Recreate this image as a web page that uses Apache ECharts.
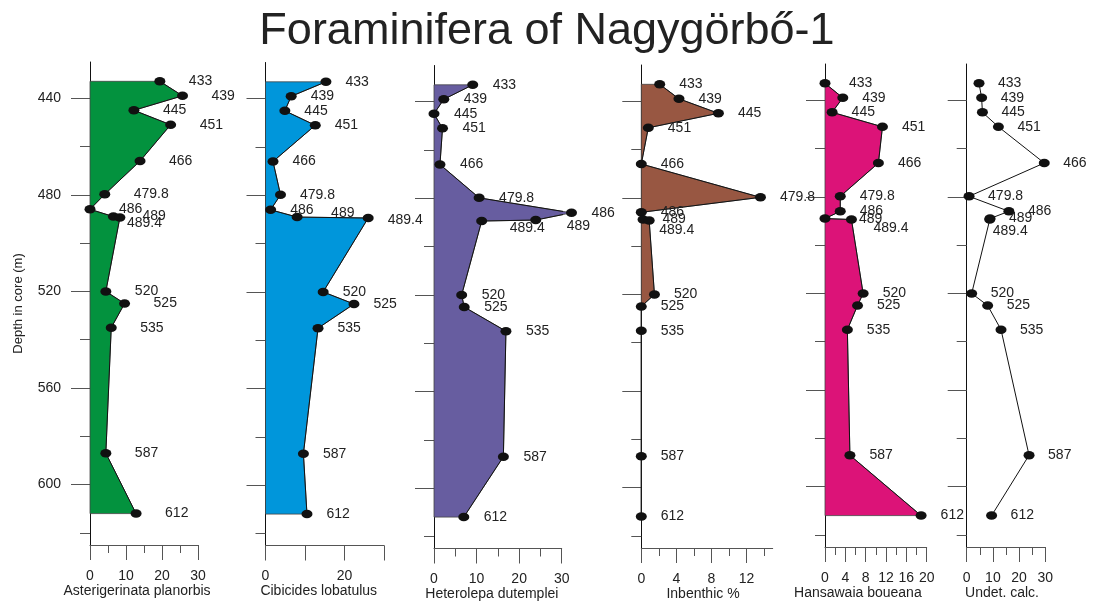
<!DOCTYPE html>
<html>
<head>
<meta charset="utf-8">
<title>Foraminifera of Nagygörbő-1</title>
<script src="https://cdn.jsdelivr.net/npm/echarts@6/dist/echarts.min.js"></script>
<style>
  html, body { margin: 0; padding: 0; background: #fff; }
  #main { width: 1094px; height: 601px; }
</style>
</head>
<body>
<div id="main"></div>
<script>
// sample depths in core (m)
var depths = [433, 439, 445, 451, 466, 479.8, 486, 489, 489.4, 520, 525, 535, 587, 612];

// counts, one value per depth
var asterigerinata = [19.4, 25.7, 12.2, 22.4, 13.9, 4.1, 0, 6.5, 8.3, 4.4, 9.6, 5.9, 4.4, 12.8];
var cibicides = [15.3, 6.5, 4.9, 12.6, 1.9, 3.8, 1.3, 8.0, 26.0, 14.6, 22.4, 13.3, 9.6, 10.5];
var heterolepa = [9.1, 2.3, 0, 2.0, 1.4, 10.6, 32.3, 23.9, 11.2, 6.5, 7.1, 16.9, 16.3, 7.0];
var inbenthic = [2.1, 4.3, 8.8, 0.8, 0, 13.6, 0, 0.2, 0.9, 1.5, 0, 0, 0, 0];
var hansawaia = [0, 3.5, 1.4, 11.3, 10.5, 3.0, 3.0, 0, 5.2, 7.5, 6.4, 4.4, 4.9, 18.9];
var undet = [4.7, 5.7, 6.0, 12.1, 29.6, 0.9, 16.1, 8.9, 8.8, 1.9, 8.0, 13.1, 23.8, 9.5];

var depthTicks = [440, 480, 520, 560, 600];
var depthMinorTicks = [460, 500, 540, 580, 620];

var ticks30 = [0, 10, 20, 30];
var minor30 = [5, 15, 25];
var ticks15 = [0, 4, 8, 12];
var minor15 = [2, 6, 10, 14];
var ticks20 = [0, 4, 8, 12, 16, 20];
var minor20 = [2, 6, 10, 14, 18];

// layout / style per panel (nudge = label offset by point index)
var panels = [
  { name: 'Asterigerinata planorbis', values: asterigerinata, color: '#03923e',
    left: 90, width: 108, top: 62, max: 30, ticks: ticks30, labels: ticks30, minor: minor30,
    gap: 29, nameShift: 7, nudge: { 8: [-22, 6] } },
  { name: 'Cibicides lobatulus', values: cibicides, color: '#0096db',
    left: 265.5, width: 118.5, top: 62.5, max: 30, ticks: ticks30, labels: [0, 20], minor: [],
    gap: 19.5, nameShift: 6, nudge: { 7: [14.5, -4], 8: [0, 2] } },
  { name: 'Heterolepa dutemplei', values: heterolepa, color: '#675da0',
    left: 434, width: 127.7, top: 65.5, max: 30, ticks: ticks30, labels: ticks30, minor: minor30,
    gap: 20, nameShift: 6, nudge: { 7: [11, 6], 8: [8, 7] } },
  { name: 'Inbenthic %', values: inbenthic, color: '#985742',
    left: 641.3, width: 131.4, top: 65, max: 15, ticks: ticks15, labels: ticks15, minor: minor15,
    gap: 19.5, nameShift: 4, nudge: { 8: [-9.5, 9.5] } },
  { name: 'Hansawaia boueana', values: hansawaia, color: '#dc1378',
    left: 825, width: 101.7, top: 64, max: 20, ticks: ticks20, labels: ticks20, minor: minor20,
    gap: 19.5, nameShift: 18, nudge: { 0: [4.5, 0], 7: [14.5, 1], 8: [2.5, 9] } },
  { name: 'Undet. calc.', values: undet, color: null,
    left: 966.7, width: 78.6, top: 64, max: 30, ticks: ticks30, labels: ticks30, minor: minor30,
    gap: 19, nameShift: 4, nudge: { 8: [-16, 12] } }
];

var chart = echarts.init(document.getElementById('main'));

var option = {
  animation: false,
  textStyle: { fontFamily: 'Liberation Sans, Arial, sans-serif' },
  title: {
    text: 'Foraminifera of Nagygörbő-1',
    left: 'center',
    top: 4,
    textStyle: { fontSize: 45, fontWeight: 'normal', color: '#222' }
  },
  grid: [],
  xAxis: [],
  yAxis: [],
  series: []
};

panels.forEach(function (p, i) {
  option.grid.push({
    left: p.left, top: p.top, width: p.width, height: 483,
    containLabel: false, outerBoundsMode: 'none'
  });

  option.xAxis.push({
    gridIndex: i, type: 'value', min: 0, max: p.max, position: 'bottom',
    name: p.name, nameLocation: 'middle', nameGap: 39, nameMoveOverlap: false,
    nameTextStyle: { fontSize: 14, color: '#222', padding: [0, p.nameShift * 2, 0, 0] },
    axisLine: { show: true, onZero: false, lineStyle: { color: '#555' } },
    axisTick: { show: true, customValues: p.ticks, length: 15, lineStyle: { color: '#555' } },
    axisLabel: { show: true, customValues: p.labels, margin: 24, fontSize: 14, color: '#222' },
    splitLine: { show: false }
  });
  option.xAxis.push({
    gridIndex: i, type: 'value', min: 0, max: p.max, position: 'bottom',
    axisLine: { show: false, onZero: false },
    axisTick: { show: p.minor.length > 0, customValues: p.minor, length: 8, lineStyle: { color: '#555' } },
    axisLabel: { show: false },
    splitLine: { show: false }
  });

  option.yAxis.push({
    gridIndex: i, type: 'value', inverse: true, min: 425, max: 625, position: 'left',
    name: i === 0 ? 'Depth in core (m)' : '', nameLocation: 'middle', nameGap: 65,
    nameMoveOverlap: false,
    nameTextStyle: { fontSize: 13, color: '#222' },
    axisLine: { show: true, onZero: false, lineStyle: { color: '#111' } },
    axisTick: { show: true, customValues: depthTicks, length: 19, lineStyle: { color: '#555' } },
    axisLabel: { show: i === 0, customValues: depthTicks, margin: 29, fontSize: 14, color: '#222' },
    splitLine: { show: false }
  });
  option.yAxis.push({
    gridIndex: i, type: 'value', inverse: true, min: 425, max: 625, position: 'left',
    axisLine: { show: false, onZero: false },
    axisTick: { show: true, customValues: depthMinorTicks, length: 10, lineStyle: { color: '#555' } },
    axisLabel: { show: false },
    splitLine: { show: false }
  });

  var pts = depths.map(function (d, k) { return [p.values[k], d]; });

  if (p.color) {
    option.series.push({
      type: 'custom', xAxisIndex: 2 * i, yAxisIndex: 2 * i, clip: false, z: 1, silent: true,
      data: pts,
      renderItem: function (params, api) {
        if (params.dataIndex !== 0) return null;
        var poly = [api.coord([0, depths[0]])];
        pts.forEach(function (v) { poly.push(api.coord(v)); });
        poly.push(api.coord([0, depths[depths.length - 1]]));
        return {
          type: 'polygon',
          shape: { points: poly },
          style: { fill: p.color, stroke: '#444', lineWidth: 0.8 }
        };
      }
    });
  }

  option.series.push({
    type: 'line', xAxisIndex: 2 * i, yAxisIndex: 2 * i, z: 3, clip: false, silent: true,
    data: pts.map(function (v, k) {
      var item = { value: v };
      if (p.nudge[k]) item.label = { offset: p.nudge[k] };
      return item;
    }),
    symbol: 'circle',
    symbolSize: [11, 8.5],
    itemStyle: { color: '#111' },
    lineStyle: { color: '#111', width: 1 },
    label: {
      show: true, position: 'right', distance: p.gap - 5.5,
      fontSize: 14, color: '#222',
      formatter: function (prm) { return String(prm.value[1]); }
    },
    emphasis: { disabled: true }
  });
});

chart.setOption(option);
</script>
</body>
</html>
